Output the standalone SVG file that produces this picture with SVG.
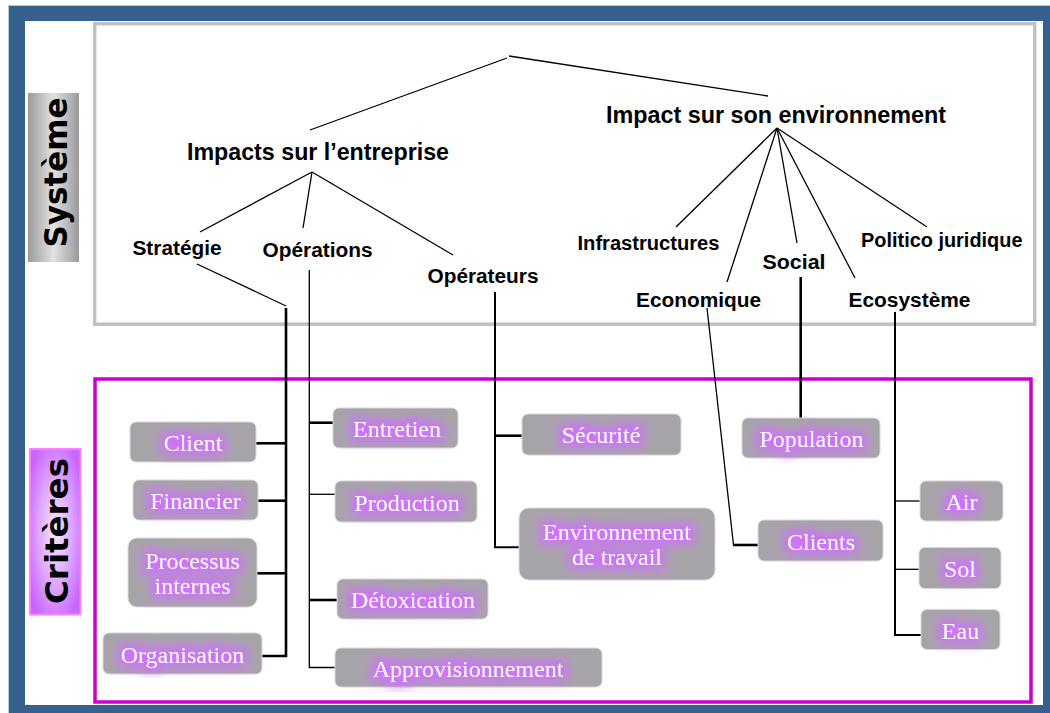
<svg xmlns="http://www.w3.org/2000/svg" width="1050" height="713" viewBox="0 0 1050 713">
<defs>
<linearGradient id="gSys" x1="0" y1="0" x2="1" y2="0">
<stop offset="0" stop-color="#9A9A9A"/><stop offset="0.5" stop-color="#E2E2E2"/><stop offset="1" stop-color="#9A9A9A"/>
</linearGradient>
<radialGradient id="gCrit" cx="0.5" cy="0.5" r="0.6">
<stop offset="0" stop-color="#F6E8FF"/><stop offset="0.55" stop-color="#DFA6FF"/><stop offset="1" stop-color="#C866FF"/>
</radialGradient>
<filter id="glow" x="-25%" y="-50%" width="150%" height="190%">
<feMorphology in="SourceAlpha" operator="dilate" radius="4" result="d"/>
<feGaussianBlur in="d" stdDeviation="6" result="b"/>
<feFlood flood-color="#D070FF" flood-opacity="1"/>
<feComposite in2="b" operator="in" result="g"/>
<feMerge><feMergeNode in="g"/><feMergeNode in="SourceGraphic"/></feMerge>
</filter>
<style>
.box{fill:#A7A4A9;stroke:#D8D8D8;stroke-width:1}
.nt{font-family:"Liberation Serif",serif;font-size:24px;fill:#FBF6FF;text-anchor:middle}
.lbl{font-family:"Liberation Sans",Arial,sans-serif;font-weight:bold;fill:#000}
.big{font-size:23px}
.sub{font-size:20px}
.side{font-family:"DejaVu Sans",sans-serif;font-weight:bold;font-size:32px;fill:#000;text-anchor:middle}
.thin{stroke:#000;stroke-width:1.3;fill:none}
.thick{stroke:#000;stroke-width:2.6;fill:none}
.mid{stroke:#000;stroke-width:2;fill:none}
</style>
</defs>

<!-- frame -->
<rect x="8" y="5" width="1042" height="708" fill="#36618F"/>
<line x1="8.5" y1="5" x2="8.5" y2="713" stroke="#B9C6D4" stroke-width="1"/>
<line x1="8" y1="5.5" x2="1050" y2="5.5" stroke="#B9C6D4" stroke-width="1"/>
<rect x="25" y="21" width="1018" height="684" fill="#FFFFFF"/>

<!-- sections -->
<rect x="94.7" y="23.7" width="940" height="300.5" fill="none" stroke="#C0C0C0" stroke-width="3.5"/>
<rect x="95" y="379" width="936" height="323" fill="none" stroke="#CC00CC" stroke-width="3.5"/>

<g id="systeme">
<rect x="28" y="93" width="51" height="169" fill="url(#gSys)"/>
<text class="side" transform="translate(67,172.5) rotate(-90)" textLength="150" lengthAdjust="spacingAndGlyphs">Système</text>
</g>
<g id="criteres">
<rect x="30" y="449" width="50.5" height="165.5" fill="url(#gCrit)" stroke="#FF80FF" stroke-width="2"/>
<text class="side" transform="translate(67.5,531) rotate(-90)" textLength="146" lengthAdjust="spacingAndGlyphs">Critères</text>
</g>

<!-- connectors -->
<g id="connectors">
<line class="thin" x1="310" y1="130" x2="507" y2="58"/>
<line class="thin" x1="509" y1="56" x2="768" y2="96"/>
<line class="thin" x1="312" y1="172" x2="200" y2="232"/>
<line class="thin" x1="312" y1="172" x2="303" y2="228"/>
<line class="thin" x1="312" y1="172" x2="453" y2="255"/>
<line class="thin" x1="197" y1="264" x2="286" y2="306"/>
<polyline class="thick" points="286,308 286,656 262,656"/>
<line class="thick" x1="256" y1="443.3" x2="286" y2="443.3"/>
<line class="thick" x1="258" y1="500.7" x2="286" y2="500.7"/>
<line class="thick" x1="257" y1="573.3" x2="286" y2="573.3"/>
<polyline class="thin" points="309.3,270 309.3,667.5 335,667.5"/>
<line class="thick" x1="309.3" y1="422.7" x2="333" y2="422.7"/>
<line class="thin" x1="309.3" y1="494.3" x2="335" y2="494.3"/>
<line class="thick" x1="309.3" y1="600" x2="337" y2="600"/>
<polyline class="mid" points="495,292 495,547.3 519,547.3"/>
<line class="thick" x1="495" y1="435.7" x2="522" y2="435.7"/>
<line class="thin" x1="777" y1="128" x2="676" y2="227"/>
<line class="thin" x1="777" y1="128" x2="727" y2="282"/>
<line class="thin" x1="777" y1="128" x2="797" y2="243"/>
<line class="thin" x1="777" y1="128" x2="855" y2="278"/>
<line class="thin" x1="777" y1="128" x2="927" y2="227"/>
<polyline class="thin" points="707,308 733.5,545 745,545"/>
<line class="thick" x1="733.5" y1="545" x2="758" y2="545"/>
<line class="thick" x1="800.7" y1="277" x2="800.7" y2="418"/>
<polyline class="mid" points="895,312 895,635 921,635"/>
<line class="thin" x1="895" y1="501" x2="920" y2="501"/>
<line class="thin" x1="895" y1="569.3" x2="919" y2="569.3"/>
</g>

<!-- top labels -->
<g id="n-root-left"><text class="lbl big" x="187" y="159.5" textLength="262" lengthAdjust="spacingAndGlyphs">Impacts sur l’entreprise</text></g>
<g id="n-root-right"><text class="lbl big" x="606" y="122.5" textLength="340" lengthAdjust="spacingAndGlyphs">Impact sur son environnement</text></g>
<g id="n-strategie"><text class="lbl sub" x="132.5" y="255" textLength="89" lengthAdjust="spacingAndGlyphs">Stratégie</text></g>
<g id="n-operations"><text class="lbl sub" x="262.5" y="257" textLength="110" lengthAdjust="spacingAndGlyphs">Opérations</text></g>
<g id="n-operateurs"><text class="lbl sub" x="427.5" y="283" textLength="111" lengthAdjust="spacingAndGlyphs">Opérateurs</text></g>
<g id="n-infra"><text class="lbl sub" x="577.5" y="250" textLength="142" lengthAdjust="spacingAndGlyphs">Infrastructures</text></g>
<g id="n-social"><text class="lbl sub" x="762.5" y="269" textLength="63" lengthAdjust="spacingAndGlyphs">Social</text></g>
<g id="n-politico"><text class="lbl sub" x="861" y="246.7" textLength="161.5" lengthAdjust="spacingAndGlyphs">Politico juridique</text></g>
<g id="n-economique"><text class="lbl sub" x="636" y="306.7" textLength="125" lengthAdjust="spacingAndGlyphs">Economique</text></g>
<g id="n-ecosysteme"><text class="lbl sub" x="848.5" y="306.7" textLength="122" lengthAdjust="spacingAndGlyphs">Ecosystème</text></g>

<!-- criteria nodes -->
<g id="n-client"><rect class="box" x="130" y="422" width="126" height="40" rx="6"/><text class="nt" filter="url(#glow)" x="193" y="451">Client</text></g>
<g id="n-financier"><rect class="box" x="133" y="480" width="125" height="40" rx="6"/><text class="nt" filter="url(#glow)" x="195.5" y="509">Financier</text></g>
<g id="n-processus"><rect class="box" x="128" y="538" width="129" height="69" rx="9"/><text class="nt" filter="url(#glow)" x="192.5" y="568.5">Processus</text><text class="nt" filter="url(#glow)" x="192.5" y="593.5">internes</text></g>
<g id="n-organisation"><rect class="box" x="103" y="633" width="159" height="41" rx="6"/><text class="nt" filter="url(#glow)" x="182.5" y="662.5">Organisation</text></g>
<g id="n-entretien"><rect class="box" x="333" y="408" width="125" height="40" rx="6"/><text class="nt" filter="url(#glow)" x="397" y="437">Entretien</text></g>
<g id="n-production"><rect class="box" x="335" y="481" width="142" height="41" rx="6"/><text class="nt" filter="url(#glow)" x="407" y="510.5">Production</text></g>
<g id="n-detox"><rect class="box" x="337" y="579" width="151" height="40" rx="6"/><text class="nt" filter="url(#glow)" x="413" y="608">Détoxication</text></g>
<g id="n-approvisionnement"><rect class="box" x="335" y="648" width="267" height="39" rx="6"/><text class="nt" filter="url(#glow)" x="468" y="676.5">Approvisionnement</text></g>
<g id="n-securite"><rect class="box" x="522" y="414" width="159" height="41" rx="6"/><text class="nt" filter="url(#glow)" x="601" y="443">Sécurité</text></g>
<g id="n-envtravail"><rect class="box" x="519" y="508" width="196" height="72" rx="10"/><text class="nt" filter="url(#glow)" x="617" y="540">Environnement</text><text class="nt" filter="url(#glow)" x="617" y="565">de travail</text></g>
<g id="n-population"><rect class="box" x="742" y="418" width="138" height="40" rx="6"/><text class="nt" filter="url(#glow)" x="811.5" y="447">Population</text></g>
<g id="n-clients"><rect class="box" x="758" y="520" width="125" height="41" rx="6"/><text class="nt" filter="url(#glow)" x="821" y="549.5">Clients</text></g>
<g id="n-air"><rect class="box" x="920" y="481" width="83" height="40" rx="6"/><text class="nt" filter="url(#glow)" x="961.5" y="510">Air</text></g>
<g id="n-sol"><rect class="box" x="919" y="547.5" width="82" height="41" rx="6"/><text class="nt" filter="url(#glow)" x="960" y="577">Sol</text></g>
<g id="n-eau"><rect class="box" x="921" y="609.5" width="79" height="40" rx="6"/><text class="nt" filter="url(#glow)" x="960.5" y="638.5">Eau</text></g>
</svg>
